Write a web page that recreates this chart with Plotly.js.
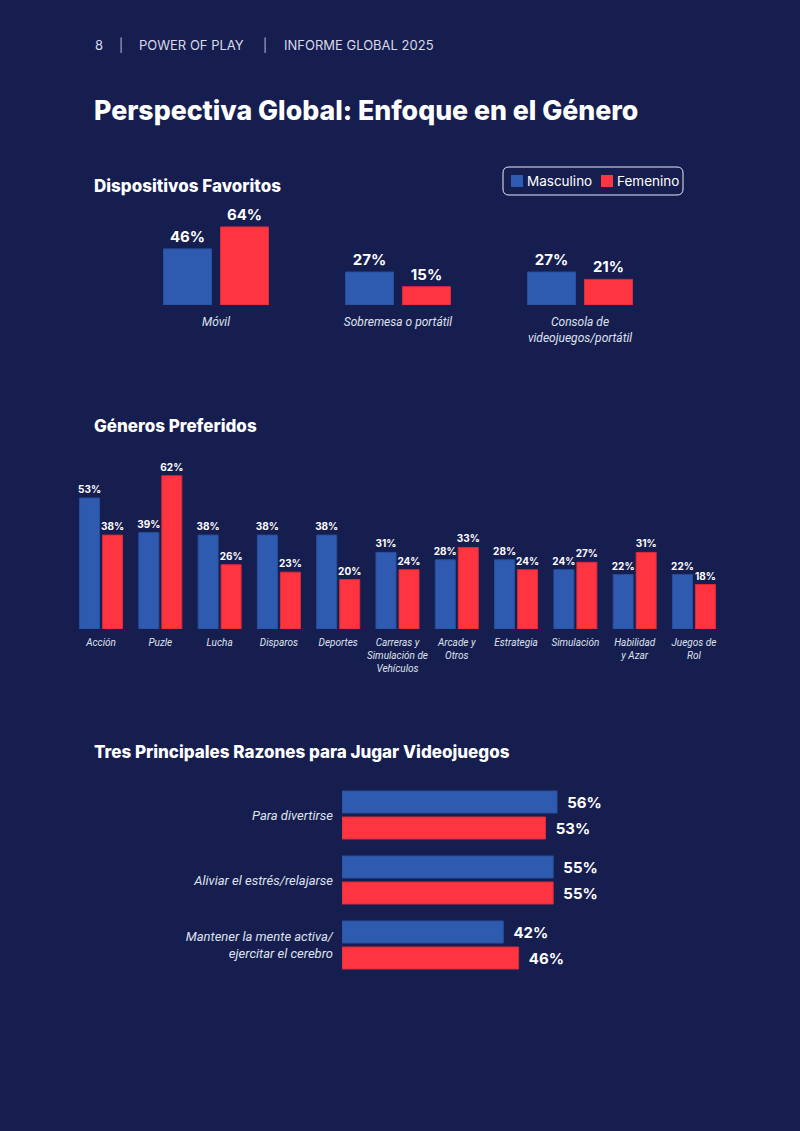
<!DOCTYPE html>
<html><head><meta charset="utf-8">
<script src="https://cdn.plot.ly/plotly-3.0.1.min.js"></script>
<style>html,body{margin:0;padding:0;background:#161e50;} #chart{width:800px;height:1131px;}</style>
</head><body><div id="chart"></div>
<script>
// ---- data ----
const seriesNames = ['Masculino', 'Femenino'];
const deviceCats = ['Móvil', 'Sobremesa o portátil', 'Consola de<br>videojuegos/portátil'];
const deviceMale = [46, 27, 27];
const deviceFemale = [64, 15, 21];
const genreCats = ['Acción', 'Puzle', 'Lucha', 'Disparos', 'Deportes', 'Carreras y<br>Simulación de<br>Vehículos', 'Arcade y<br>Otros', 'Estrategia', 'Simulación', 'Habilidad<br>y Azar', 'Juegos de<br>Rol'];
const genreMale = [53, 39, 38, 38, 38, 31, 28, 28, 24, 22, 22];
const genreFemale = [38, 62, 26, 23, 20, 24, 33, 24, 27, 31, 18];
const reasonCats = ['Para divertirse', 'Aliviar el estrés/relajarse', 'Mantener la mente activa/<br>ejercitar el cerebro'];
const reasonMale = [56, 55, 42];
const reasonFemale = [53, 55, 46];

// ---- style ----
const W = 800, H = 1131;
const px = x => x / W, py = y => 1 - y / H;
const BG = '#161e50';
const BLUE = '#2e5bb0', RED = '#ff3441';
const BLUE_LINE = '#27509c', RED_LINE = '#d92c3a';
const TICK = '#dfe2ee';
const tickFont = s => ({family: 'Roboto, sans-serif', size: s, color: TICK, style: 'italic'});
const valFont = s => ({family: 'Inter, sans-serif', size: s, color: '#ffffff', weight: 700});

// geometry per chart: [bar width, male offset, female offset] in category units
const g1 = {w: 48 / 182, o0: -52.5 / 182, o1: 4.5 / 182};
const g2 = {w: 20 / 59.3, o0: -21.5 / 59.3, o1: 1.5 / 59.3};
const g3 = {w: 22 / 65, o0: -24 / 65, o1: 2 / 65};

function bar(name, cats, vals, color, line, ax, ay, fs, width, offset, horiz) {
  const t = {
    type: 'bar', name: name, showlegend: false, width: width, offset: offset,
    marker: {color: color, line: {color: line, width: 1}},
    texttemplate: horiz ? '  %{x}%' : '%{y}%', textposition: 'outside',
    textfont: valFont(fs), constraintext: 'none', cliponaxis: false,
    hoverinfo: 'skip', xaxis: ax, yaxis: ay
  };
  if (horiz) { t.orientation = 'h'; t.y = cats; t.x = vals; }
  else { t.x = cats; t.y = vals; }
  return t;
}

const data = [
  bar(seriesNames[0], deviceCats, deviceMale, BLUE, BLUE_LINE, 'x', 'y', 15, g1.w, g1.o0, false),
  bar(seriesNames[1], deviceCats, deviceFemale, RED, RED_LINE, 'x', 'y', 15, g1.w, g1.o1, false),
  bar(seriesNames[0], genreCats, genreMale, BLUE, BLUE_LINE, 'x2', 'y2', 10, g2.w, g2.o0, false),
  bar(seriesNames[1], genreCats, genreFemale, RED, RED_LINE, 'x2', 'y2', 10, g2.w, g2.o1, false),
  bar(seriesNames[0], reasonCats, reasonMale, BLUE, BLUE_LINE, 'x3', 'y3', 15, g3.w, g3.o0, true),
  bar(seriesNames[1], reasonCats, reasonFemale, RED, RED_LINE, 'x3', 'y3', 15, g3.w, g3.o1, true)
];

const hiddenVal = {showgrid: false, zeroline: false, showticklabels: false, ticks: '', fixedrange: true};
const catAxis = (fs, standoff) => ({type: 'category', showgrid: false, zeroline: false, showline: false, ticks: '',
  tickfont: tickFont(fs), ticklabelstandoff: standoff, fixedrange: true});

function ann(text, x, y, size, weight, color) {
  return {text: text, xref: 'paper', yref: 'paper', x: px(x), y: py(y), xanchor: 'left', yanchor: 'middle',
    showarrow: false, font: {family: 'Inter, sans-serif', size: size, color: color, weight: weight}};
}

const r = 6, lx0 = 503, lx1 = 683, ly0 = 167, ly1 = 195;
const legendPath = `M${px(lx0 + r)},${py(ly0)} L${px(lx1 - r)},${py(ly0)} Q${px(lx1)},${py(ly0)} ${px(lx1)},${py(ly0 + r)} ` +
  `L${px(lx1)},${py(ly1 - r)} Q${px(lx1)},${py(ly1)} ${px(lx1 - r)},${py(ly1)} L${px(lx0 + r)},${py(ly1)} ` +
  `Q${px(lx0)},${py(ly1)} ${px(lx0)},${py(ly1 - r)} L${px(lx0)},${py(ly0 + r)} Q${px(lx0)},${py(ly0)} ${px(lx0 + r)},${py(ly0)} Z`;
const legendSwatch = (x0, color) => ({type: 'rect', xref: 'paper', yref: 'paper', x0: px(x0), x1: px(x0 + 12),
  y0: py(187), y1: py(175), fillcolor: color, line: {width: 0}});

const HDR = '#d7dae8';
const layout = {
  width: W, height: H, margin: {l: 0, r: 0, t: 0, b: 0},
  paper_bgcolor: BG, plot_bgcolor: 'rgba(0,0,0,0)',
  font: {family: 'Inter, sans-serif', color: '#ffffff'},
  showlegend: false,
  xaxis: Object.assign(catAxis(12, 8), {domain: [px(125), px(671)], anchor: 'y'}),
  yaxis: Object.assign({}, hiddenVal, {domain: [py(305), py(219.6)], range: [0, 70], anchor: 'x'}),
  xaxis2: Object.assign(catAxis(10, 6), {domain: [px(71.4), px(723.6)], anchor: 'y2'}),
  yaxis2: Object.assign({}, hiddenVal, {domain: [py(629), py(468.4)], range: [0, 65], anchor: 'x2'}),
  xaxis3: Object.assign({}, hiddenVal, {domain: [px(342), px(572.4)], range: [0, 60], anchor: 'y3'}),
  yaxis3: Object.assign(catAxis(13, 8), {domain: [py(977.5), py(782.5)], autorange: 'reversed', anchor: 'x3'}),
  shapes: [
    {type: 'path', path: legendPath, xref: 'paper', yref: 'paper', line: {color: '#e8eaf2', width: 1}, fillcolor: 'rgba(0,0,0,0)'},
    legendSwatch(511, BLUE), legendSwatch(601, RED)
  ],
  annotations: [
    ann('8', 93, 45, 13, 400, HDR),
    ann('|', 117, 45, 13, 300, HDR),
    ann('POWER OF PLAY', 137, 45, 13, 400, HDR),
    ann('|', 261, 45, 13, 300, HDR),
    ann('INFORME GLOBAL 2025', 282, 45, 13, 400, HDR),
    ann('Perspectiva Global: Enfoque en el Género', 92, 110, 26.7, 800, '#ffffff'),
    ann('Dispositivos Favoritos', 92, 186, 17, 800, '#ffffff'),
    ann('Géneros Preferidos', 92, 426, 17, 800, '#ffffff'),
    ann('Tres Principales Razones para Jugar Videojuegos', 92, 752, 17, 800, '#ffffff'),
    ann(seriesNames[0], 525, 181, 13.5, 400, '#ffffff'),
    ann(seriesNames[1], 615, 181, 13.5, 400, '#ffffff')
  ]
};

Plotly.newPlot('chart', data, layout, {staticPlot: true, displayModeBar: false});
</script>
</body></html>
